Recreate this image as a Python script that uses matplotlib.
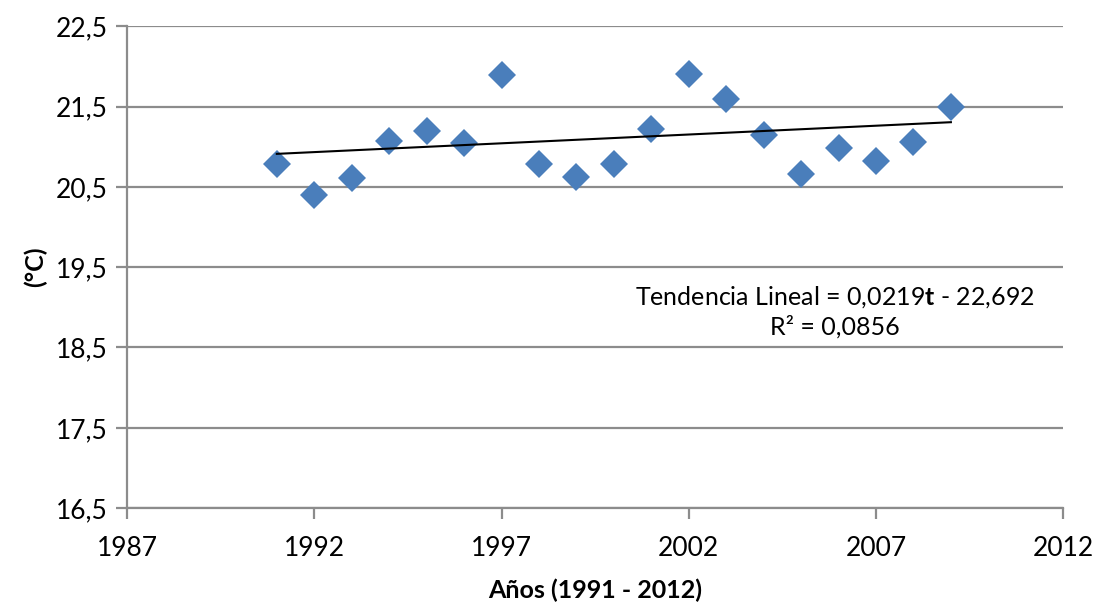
import numpy as np
import matplotlib
matplotlib.use("Agg")
from matplotlib import pyplot as plt
from matplotlib.ticker import FuncFormatter

# mean annual temperature
years = [1991, 1992, 1993, 1994, 1995, 1996, 1997, 1998, 1999, 2000,
         2001, 2002, 2003, 2004, 2005, 2006, 2007, 2008, 2009]
temps = [20.79, 20.40, 20.61, 21.07, 21.20, 21.04, 21.89, 20.78, 20.62, 20.79,
         21.22, 21.91, 21.60, 21.14, 20.66, 20.99, 20.82, 21.06, 21.50]

# trend line coefficients as printed
slope = 0.0219
intercept = -22.692
r2 = 0.0856

xticks = [1987, 1992, 1997, 2002, 2007, 2012]
yticks = [16.5, 17.5, 18.5, 19.5, 20.5, 21.5, 22.5]

plt.rcParams['font.family'] = ['Lato', 'DejaVu Sans']
plt.rcParams['mathtext.fontset'] = 'custom'
plt.rcParams['mathtext.bf'] = 'Lato:bold'

fig = plt.figure(figsize=(10.95, 6.10), dpi=100)
ax = fig.add_axes([0.116, 0.167, 0.855, 0.790])

grey = '#8c8c8c'
ax.grid(axis='y', color=grey, linewidth=1.6)
ax.set_axisbelow(True)

ax.plot(years, temps, 'D', color='#4a7ebb', markersize=14, markeredgewidth=0, zorder=3)

tx = np.array([years[0], years[-1]])
ax.plot(tx, slope * tx + intercept, color='black', linewidth=1.5, zorder=4)

ax.set_xlim(1987, 2012)
ax.set_ylim(16.5, 22.5)
ax.set_xticks(xticks)
ax.set_yticks(yticks)
ax.yaxis.set_major_formatter(FuncFormatter(lambda v, p: ('%.1f' % v).replace('.', ',')))

for s in ['top', 'right']:
    ax.spines[s].set_visible(False)
for s in ['left', 'bottom']:
    ax.spines[s].set_color(grey)
    ax.spines[s].set_linewidth(1.6)
ax.tick_params(axis='both', colors=grey, width=1.6, length=8, labelsize=19, labelcolor='black')
ax.tick_params(axis='x', pad=12)
ax.tick_params(axis='y', pad=6)

ax.set_xlabel('Años (1991 - 2012)', fontsize=18, fontweight='bold', labelpad=13)
ax.set_ylabel('(°C)', fontsize=18, fontweight='bold', labelpad=6)

ax.text(2005.9, 19.13, 'Tendencia Lineal = ' + ('%.4f' % slope).replace('.', ',') + r'$\mathbf{t}$ - '
        + ('%.3f' % -intercept).replace('.', ','), fontsize=18, ha='center', va='center')
ax.text(2005.9, 18.76, 'R² = ' + ('%.4f' % r2).replace('.', ','), fontsize=18, ha='center', va='center')

plt.savefig('out.png', dpi=100)
